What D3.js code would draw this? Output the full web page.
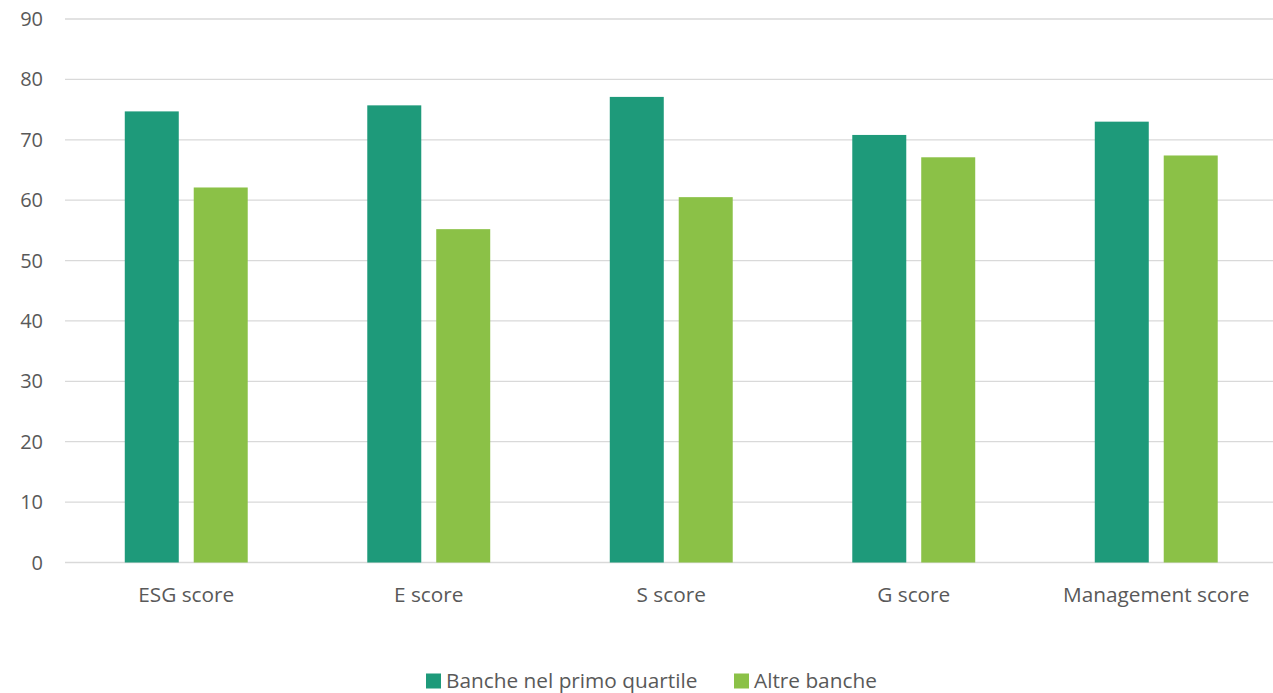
<!DOCTYPE html>
<html>
<head>
<meta charset="utf-8">
<script src="https://cdn.jsdelivr.net/npm/d3@7"></script>
<style>
  body { margin: 0; background: #fff; }
  svg text { font-family: "Open Sans", "Noto Sans", sans-serif; fill: #595959; }
</style>
</head>
<body>
<div id="chart"></div>
<script>
// data
const categories = ["ESG score", "E score", "S score", "G score", "Management score"];
const seriesNames = ["Banche nel primo quartile", "Altre banche"];
const topQuartile = [74.7, 75.7, 77.1, 70.8, 73.0];
const otherBanks = [62.1, 55.2, 60.5, 67.1, 67.4];
const yTicks = [0, 10, 20, 30, 40, 50, 60, 70, 80, 90];

const colors = ["#1e9a7a", "#8bc147"];

const W = 1273, H = 693;
const margin = {top: 19, right: 0, bottom: 130.5, left: 65};
const width = W - margin.left - margin.right;
const height = H - margin.top - margin.bottom;

const svg = d3.select("#chart")
  .append("svg")
    .attr("width", W)
    .attr("height", H)
  .append("g")
    .attr("transform", `translate(${margin.left}, ${margin.top})`);

const x0 = d3.scaleBand()
  .domain(categories)
  .range([0, 1212.5])
  .paddingInner(0.493)
  .paddingOuter(0.2465);

const x1 = d3.scaleBand()
  .domain(seriesNames)
  .range([0, x0.bandwidth()])
  .paddingInner(0.217);

const y = d3.scaleLinear()
  .domain([0, 90])
  .range([height, 0]);

// gridlines
svg.append("g")
  .selectAll("line")
  .data(yTicks)
  .join("line")
    .attr("x1", 0)
    .attr("x2", width)
    .attr("y1", d => y(d))
    .attr("y2", d => y(d))
    .style("stroke", "#d9d9d9")
    .style("stroke-width", 1.3);

// y labels
svg.append("g")
  .selectAll("text")
  .data(yTicks)
  .join("text")
    .attr("x", -22)
    .attr("y", d => y(d))
    .attr("dy", "0.35em")
    .style("text-anchor", "end")
    .style("font-size", "20px")
    .text(d => d);

const rows = categories.map((c, i) => ({cat: c, values: [topQuartile[i], otherBanks[i]]}));

svg.append("g")
  .selectAll("g")
  .data(rows)
  .join("g")
    .attr("transform", d => `translate(${x0(d.cat)}, 0)`)
  .selectAll("rect")
  .data(d => d.values.map((v, k) => ({name: seriesNames[k], value: v, k: k})))
  .join("rect")
    .attr("x", d => x1(d.name))
    .attr("width", x1.bandwidth())
    .attr("y", d => y(d.value))
    .attr("height", d => y(0) - y(d.value))
    .attr("fill", d => colors[d.k]);

// category labels
svg.append("g")
  .selectAll("text")
  .data(categories)
  .join("text")
    .attr("x", d => x0(d) + x0.bandwidth() / 2)
    .attr("y", height + 32)
    .attr("dy", "0.35em")
    .style("text-anchor", "middle")
    .style("font-size", "20.8px")
    .text(d => d);

// legend
const legendX = [426, 734];
const legend = svg.append("g")
  .attr("transform", `translate(${-margin.left}, ${-margin.top})`)
  .selectAll("g")
  .data(seriesNames)
  .join("g")
    .attr("transform", (d, i) => `translate(${legendX[i]}, 681)`);

legend.append("rect")
  .attr("x", 0)
  .attr("y", -7.5)
  .attr("width", 15)
  .attr("height", 15)
  .attr("fill", (d, i) => colors[i]);

legend.append("text")
  .attr("x", 20)
  .attr("y", 0)
  .attr("dy", "0.35em")
  .style("font-size", "20.8px")
  .text(d => d);
</script>
</body>
</html>
